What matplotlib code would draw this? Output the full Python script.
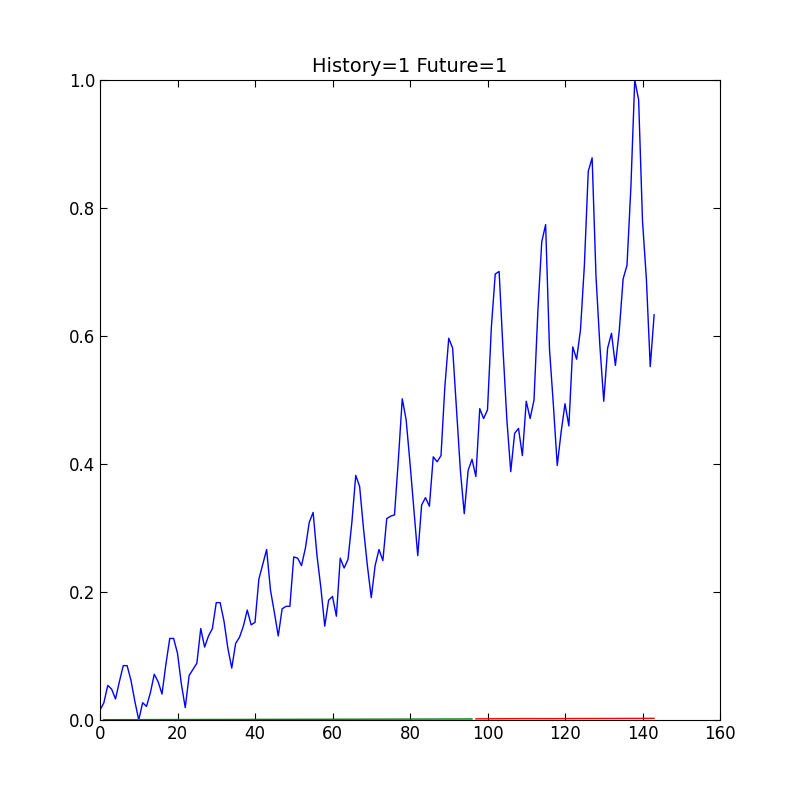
import matplotlib
matplotlib.use("Agg")
import matplotlib.pyplot as plt
import numpy as np

passengers = [112,118,132,129,121,135,148,148,136,119,104,118,
115,126,141,135,125,149,170,170,158,133,114,140,
145,150,178,163,172,178,199,199,184,162,146,166,
171,180,193,181,183,218,230,242,209,191,172,194,
196,196,236,235,229,243,264,272,237,211,180,201,
204,188,235,227,234,264,302,293,259,229,203,229,
242,233,267,269,270,315,364,347,312,274,237,278,
284,277,317,313,318,374,413,405,355,306,271,306,
315,301,356,348,355,422,465,467,404,347,305,336,
340,318,362,348,363,435,491,505,404,359,310,337,
360,342,406,396,420,472,548,559,463,407,362,405,
417,391,419,461,472,535,622,606,508,461,390,432]
train_pred = [0.0005,0.0006,0.0007,0.0008,0.0009,0.001,0.0011,0.0012,0.0013,0.0014,0.0015,0.0016]
test_pred = [0.0018,0.0020,0.0022,0.0021,0.0023,0.0024,0.0025,0.0026]

data = np.array(passengers, float)
norm = (data - data.min()) / (data.max() - data.min())

train_x = np.arange(1, 97)
train_y = np.interp(train_x, np.linspace(1, 96, len(train_pred)), train_pred)
test_x = np.arange(97, 144)
test_y = np.interp(test_x, np.linspace(97, 143, len(test_pred)), test_pred)

fig = plt.figure(figsize=(8, 8), dpi=100)
ax = fig.add_axes([0.125, 0.1, 0.775, 0.8])
ax.plot(np.arange(len(norm)), norm, color='blue', lw=1)
ax.plot(train_x, train_y, color='green', lw=1)
ax.plot(test_x, test_y, color='red', lw=1)
ax.set_xlim(0, 160)
ax.set_ylim(0, 1)
ax.set_xticks(range(0, 161, 20))
ax.set_yticks(np.arange(0, 1.01, 0.2))
ax.set_yticklabels(['0.0', '0.2', '0.4', '0.6', '0.8', '1.0'])
ax.tick_params(direction='in', top=True, right=True, labelsize=12, length=5)
ax.set_title('History=1 Future=1', fontsize=14)
fig.savefig('out.png', dpi=100)
